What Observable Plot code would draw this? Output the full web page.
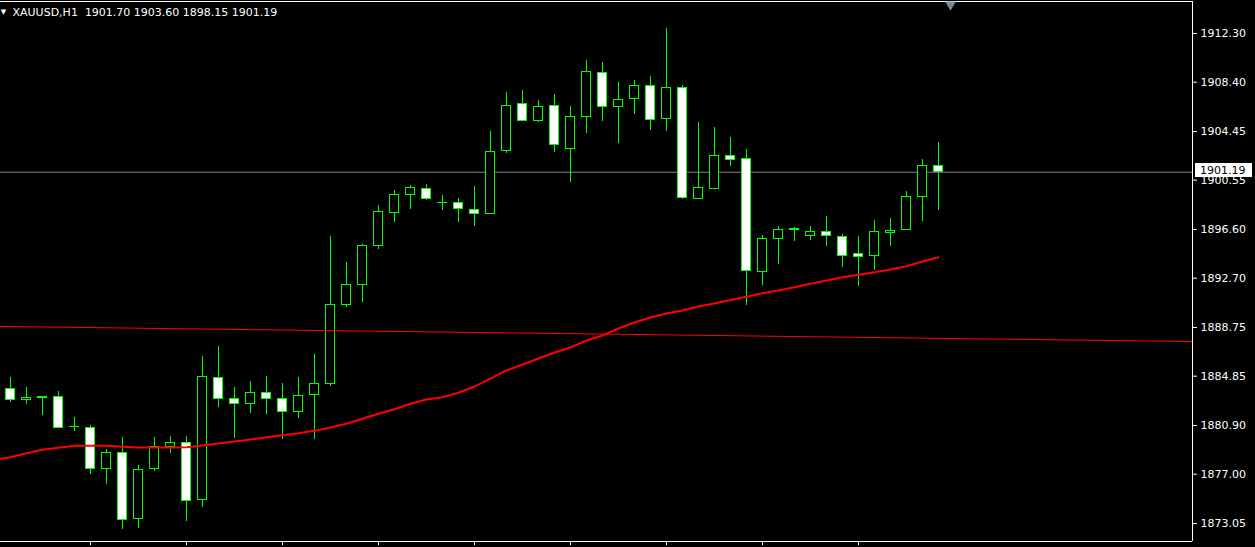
<!DOCTYPE html>
<html><head><meta charset="utf-8">
<script src="https://cdn.jsdelivr.net/npm/d3@7"></script>
<script src="https://cdn.jsdelivr.net/npm/@observablehq/plot@0.6"></script>
<style>html,body{margin:0;padding:0;background:#000;overflow:hidden} svg text{white-space:pre}</style>
</head><body><div id="chart"></div>
<script>
const symbolName = "XAUUSD,H1";
const opens = [1883.84,1882.93,1883.17,1883.20,1880.78,1880.72,1877.43,1878.71,1873.43,1877.43,
  1879.16,1879.51,1874.95,1884.72,1883.04,1882.64,1883.52,1883.04,1882.00,1883.36,
  1884.21,1890.54,1892.14,1895.26,1897.91,1899.35,1899.86,1898.76,1898.74,1898.20,
  1897.88,1902.87,1906.67,1905.31,1906.51,1903.06,1905.63,1909.15,1906.43,1907.04,
  1908.11,1905.44,1907.95,1899.03,1899.86,1902.50,1902.26,1893.18,1895.85,1896.60,
  1896.10,1896.42,1896.02,1894.65,1894.49,1896.34,1896.58,1899.22,1901.70];
const highs = [1884.74,1883.94,1883.20,1883.62,1881.54,1880.90,1878.98,1879.94,1877.67,1879.94,
  1880.02,1880.02,1886.43,1887.23,1883.94,1884.42,1884.82,1884.26,1884.74,1886.59,
  1896.04,1893.96,1895.40,1898.52,1899.72,1900.12,1900.20,1899.32,1899.08,1900.04,
  1904.45,1907.57,1907.73,1906.93,1907.41,1906.43,1910.11,1909.95,1908.35,1908.51,
  1908.86,1912.70,1908.11,1905.17,1904.77,1903.97,1903.01,1896.12,1896.84,1896.76,
  1896.84,1897.64,1896.20,1896.04,1897.32,1897.48,1899.64,1902.18,1903.60];
const lows = [1882.77,1882.61,1881.70,1880.66,1880.44,1877.00,1876.20,1872.59,1872.67,1877.24,
  1878.68,1873.23,1874.36,1882.37,1879.88,1881.89,1881.80,1879.80,1881.48,1879.80,
  1884.05,1890.38,1890.78,1895.00,1897.18,1898.23,1898.92,1898.15,1897.18,1896.84,
  1897.80,1902.71,1905.25,1905.19,1902.79,1900.39,1904.31,1905.27,1903.51,1905.84,
  1904.55,1904.47,1899.03,1898.98,1899.82,1901.67,1890.54,1892.11,1893.82,1895.66,
  1895.74,1895.26,1893.58,1892.06,1893.32,1895.26,1896.50,1897.26,1898.15];
const closes = [1882.96,1883.12,1883.14,1880.68,1880.75,1877.43,1878.71,1873.35,1877.35,1879.16,
  1879.51,1874.87,1884.80,1883.04,1882.64,1883.52,1883.04,1882.00,1883.28,1884.24,
  1890.57,1892.17,1895.29,1898.02,1899.38,1899.94,1899.03,1898.73,1898.23,1897.88,
  1902.82,1906.51,1905.31,1906.43,1903.38,1905.63,1909.23,1906.43,1906.99,1908.11,
  1905.39,1907.95,1899.14,1899.94,1902.50,1902.18,1893.29,1895.85,1896.58,1896.57,
  1896.42,1896.10,1894.49,1894.41,1896.42,1896.50,1899.22,1901.70,1901.19];
// moving average, starting one bar before the first visible candle
const maStart = -1;
const maValues = [1878.18,1878.36,1878.68,1878.95,1879.11,1879.27,1879.27,1879.27,1879.19,1879.14,
  1879.14,1879.14,1879.16,1879.30,1879.46,1879.62,1879.78,1879.96,1880.12,1880.28,
  1880.47,1880.74,1881.04,1881.44,1881.84,1882.20,1882.64,1882.98,1883.17,1883.52,
  1884.02,1884.66,1885.31,1885.79,1886.27,1886.75,1887.15,1887.71,1888.11,1888.67,
  1889.15,1889.55,1889.87,1890.11,1890.43,1890.67,1890.95,1891.21,1891.50,1891.71,
  1891.98,1892.25,1892.51,1892.78,1892.97,1893.18,1893.40,1893.66,1894.04,1894.38];
// long slow line (extends to the right edge)
const levelIdx = [-1, 74];
const levelVal = [1888.84, 1887.62];
const yTicks = [1912.30,1908.40,1904.45,1900.55,1896.60,1892.70,1888.75,1884.85,1880.90,1877.00,1873.05];
const xTickIdx = [5,11,17,23,29,35,41,47,53];
const shiftMarkerIdx = 58.75;

const candles = opens.map((o, i) => ({i, open: o, high: highs[i], low: lows[i], close: closes[i]}));
const ma = maValues.map((v, k) => ({i: maStart + k, v}));
const level = levelIdx.map((i, k) => ({i, v: levelVal[k]}));
const last = candles[candles.length - 1];
const titleText = `${symbolName}  ${last.open.toFixed(2)} ${last.high.toFixed(2)} ${last.low.toFixed(2)} ${last.close.toFixed(2)}`;

const xDomain = [-0.625, 73.875];
const yDomain = [1871.607, 1914.863];
const GREEN = "#00ff00", RED = "#ff0000", BIDGRAY = "#778899";

const chart = Plot.plot({
  width: 1255, height: 547,
  marginLeft: 0, marginRight: 63, marginTop: 1, marginBottom: 6,
  style: {background: "#000", color: "#fff", fontFamily: "DejaVu Sans", fontSize: "11px"},
  x: {domain: xDomain, axis: null},
  y: {domain: yDomain, axis: null},
  marks: [
    Plot.ruleY([last.close], {stroke: BIDGRAY, strokeWidth: 1}),
    Plot.ruleX(candles, {x: "i", y1: "low", y2: "high", stroke: GREEN, strokeWidth: 1, shapeRendering: "crispEdges"}),
    Plot.rect(candles, {x1: d => d.i - 0.28, x2: d => d.i + 0.28, y1: "open", y2: "close",
      fill: d => d.close < d.open ? "#ffffff" : "#000000", stroke: GREEN, strokeWidth: 1, shapeRendering: "crispEdges"}),
    Plot.line(level, {x: "i", y: "v", stroke: RED, strokeWidth: 1, clip: true}),
    Plot.line(ma, {x: "i", y: "v", stroke: RED, strokeWidth: 2, clip: true}),
    Plot.ruleX([xDomain[1]], {stroke: "#fff", strokeWidth: 1}),
    Plot.ruleY([yDomain[0], yDomain[1]], {stroke: "#fff", strokeWidth: 1}),
    Plot.axisY({anchor: "right", ticks: yTicks, tickFormat: d => d.toFixed(2), tickSize: 4, tickPadding: 4,
      stroke: "#fff", fill: "#fff", fontSize: 11, label: null}),
    Plot.axisX({anchor: "bottom", ticks: xTickIdx, tickSize: 4, tickFormat: () => "", stroke: "#fff", label: null}),
    Plot.text(["\u25BC"], {frameAnchor: "top-left", dx: 3, dy: 10, fontSize: 7, fill: "#fff", textAnchor: "middle", lineAnchor: "middle"}),
    Plot.text([titleText], {frameAnchor: "top-left", dx: 12, dy: 11, fontSize: 11, fill: "#fff", textAnchor: "start", lineAnchor: "middle"}),
    Plot.dot([shiftMarkerIdx], {x: d => d, y: () => yDomain[1], dy: 3, symbol: "triangle", rotate: 180, r: 4, fill: "#778899", stroke: null})
  ]
});

document.getElementById("chart").appendChild(chart);

// current price label on the axis
const yS = chart.scale("y"), xS = chart.scale("x");
const yp = yS.apply(last.close);
const xp = xS.apply(xDomain[1]);
const g = d3.select(chart).append("g");
g.append("rect").attr("x", xp + 3).attr("y", Math.round(yp) - 9).attr("width", 57).attr("height", 14).attr("fill", "#fff");
g.append("text").attr("x", xp + 8).attr("y", Math.round(yp) - 2).attr("dy", "0.32em").attr("fill", "#000")
  .attr("text-anchor", "start").attr("font-family", "DejaVu Sans").attr("font-size", 11).text(last.close.toFixed(2));
</script>
</body></html>
